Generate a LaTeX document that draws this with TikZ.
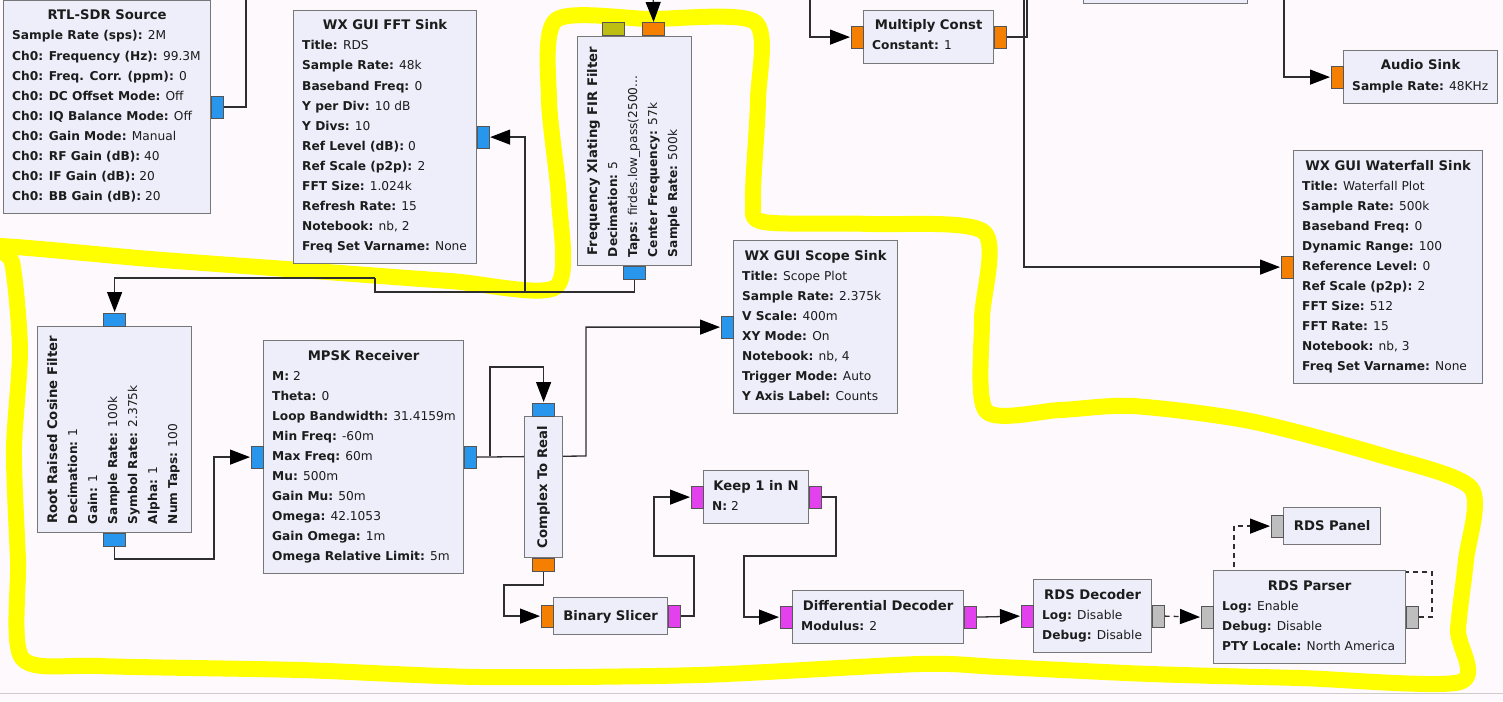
\documentclass[tikz,border=0pt]{standalone}
\usepackage{fontspec}
\setmainfont{DejaVu Sans}
\usetikzlibrary{arrows.meta,calc}

\definecolor{canvasbg}{HTML}{FDF9FD}
\definecolor{blockfill}{HTML}{EEEEFB}
\definecolor{blockedge}{HTML}{777777}
\definecolor{portedge}{HTML}{555555}
\definecolor{cplx}{HTML}{2896EC}
\definecolor{flt}{HTML}{F47F00}
\definecolor{byt}{HTML}{E341EE}
\definecolor{msg}{HTML}{BEBEBE}
\definecolor{olive}{HTML}{BDBD12}
\definecolor{wire}{HTML}{2E2E2E}
\definecolor{ink}{HTML}{1C1C1C}
\definecolor{marker}{HTML}{FFFF00}

\pgfdeclarelayer{highlight}
\pgfdeclarelayer{wires}
\pgfsetlayers{highlight,wires,main}

\newcommand\pk[1]{\textbf{#1}}
\newcommand\trunc{...}

\tikzset{
  blockbox/.style={draw=blockedge, fill=blockfill, line width=1.2pt, inner sep=0pt},
  titletext/.style={font=\fontsize{13.2}{20}\selectfont\bfseries, text=ink, inner sep=0pt},
  paramtext/.style={font=\fontsize{12.2}{20}\selectfont, text=ink, inner sep=0pt},
  hport/.style={draw=portedge, line width=1pt, inner sep=0pt, minimum width=12pt, minimum height=22pt},
  vport/.style={draw=portedge, line width=1pt, inner sep=0pt, minimum width=22pt, minimum height=13pt},
  conn/.style={draw=wire, line width=1.3pt},
  flow/.style={conn, -{Triangle[length=20pt,width=15pt,color=black]}, shorten >=0.5pt},
  msgflow/.style={flow, dash pattern=on 5pt off 4pt},
}

% horizontal block: name, left, top, width, number of params, title, params
\newcommand\hblk[7]{%
  \pgfmathsetmacro\bh{#5==0 ? 37 : 33+20*#5}%
  \node[blockbox, minimum width=#4, minimum height=\bh, anchor=north west] (#1) at (#2,#3) {};
  \ifnum#5=0
    \node[titletext, anchor=center] (#1-title) at ($(#1.center)+(0,0.5)$) {\vphantom{Xg}#6};
  \else
    \node[titletext, anchor=base] (#1-title) at ($(#1.north)+(0,20)$) {#6};
    \foreach \ln [count=\i] in {#7} {
      \node[paramtext, anchor=base west] (#1-p\i) at ($(#1.north west)+(9,20+20*\i)$) {\ln};
    }
  \fi
}

% vertical (rotated) block: name, left, top, width, length, number of params, title, params
\newcommand\vblk[8]{%
  \node[blockbox, minimum width=#4, minimum height=#5, anchor=north west] (#1) at (#2,#3) {};
  \ifnum#6=0
    \node[titletext, rotate=90, anchor=center] (#1-title) at (#1.center) {\vphantom{Xg}#7};
  \else
    \node[titletext, rotate=90, anchor=base] (#1-title) at ($(#1.west)+(20,0)$) {#7};
    \foreach \ln [count=\i] in {#8} {
      \node[paramtext, rotate=90, anchor=base west] (#1-p\i) at ($(#1.south west)+(20+20*\i,-9)$) {\ln};
    }
  \fi
}

\begin{document}
\begin{tikzpicture}[x=1pt,y=-1pt]
\useasboundingbox (0,0) rectangle (1503,701);
\clip (0,0) rectangle (1503,701);

\begin{pgfonlayer}{highlight}
\fill[canvasbg] (0,0) rectangle (1503,701);
% hand-drawn highlight around the RDS chain
\draw[marker, line width=16pt, line join=round]
  plot[smooth cycle, tension=0.45] coordinates {
    (556,20) (650,19) (755,22) (758,100) (753,200) (764,222) (870,224)
    (984,232) (982,320) (986,411) (1060,410) (1133,406) (1250,421)
    (1380,455) (1471,488) (1466,560) (1458,630) (1460,682) (1300,678)
    (1150,674) (1000,667) (920,664) (700,675) (480,677) (300,670)
    (100,666) (22,658) (18,560) (14,450) (20,350) (12,262) (-4,246)
    (150,259) (300,270) (450,281) (556,287) (559,200) (549,100)};
% scroll edge
\draw[draw=black!20, line width=1.5pt] (0,693.5) -- (1503,693.5);
\end{pgfonlayer}

% ---- blocks ----
\hblk{rtl}{3}{0}{207}{9}{RTL-SDR Source}{
  {\pk{Sample Rate (sps):} 2M},
  {\pk{Ch0: Frequency (Hz):} 99.3M},
  {\pk{Ch0: Freq. Corr. (ppm):} 0},
  {\pk{Ch0: DC Offset Mode:} Off},
  {\pk{Ch0: IQ Balance Mode:} Off},
  {\pk{Ch0: Gain Mode:} Manual},
  {\pk{Ch0: RF Gain (dB):} 40},
  {\pk{Ch0: IF Gain (dB):} 20},
  {\pk{Ch0: BB Gain (dB):} 20}}

\hblk{fft}{293}{10}{183}{11}{WX GUI FFT Sink}{
  {\pk{Title:} RDS},
  {\pk{Sample Rate:} 48k},
  {\pk{Baseband Freq:} 0},
  {\pk{Y per Div:} 10 dB},
  {\pk{Y Divs:} 10},
  {\pk{Ref Level (dB):} 0},
  {\pk{Ref Scale (p2p):} 2},
  {\pk{FFT Size:} 1.024k},
  {\pk{Refresh Rate:} 15},
  {\pk{Notebook:} nb, 2},
  {\pk{Freq Set Varname:} None}}

\vblk{xlat}{577}{36}{114}{229}{4}{Frequency Xlating FIR Filter}{
  {\pk{Decimation:} 5},
  {\pk{Taps:} firdes.low\_pass(2500\trunc},
  {\pk{Center Frequency:} 57k},
  {\pk{Sample Rate:} 500k}}

\vblk{rrc}{37}{326}{154}{206}{6}{Root Raised Cosine Filter}{
  {\pk{Decimation:} 1},
  {\pk{Gain:} 1},
  {\pk{Sample Rate:} 100k},
  {\pk{Symbol Rate:} 2.375k},
  {\pk{Alpha:} 1},
  {\pk{Num Taps:} 100}}

\hblk{mpsk}{263}{340}{200}{10}{MPSK Receiver}{
  {\pk{M:} 2},
  {\pk{Theta:} 0},
  {\pk{Loop Bandwidth:} 31.4159m},
  {\pk{Min Freq:} -60m},
  {\pk{Max Freq:} 60m},
  {\pk{Mu:} 500m},
  {\pk{Gain Mu:} 50m},
  {\pk{Omega:} 42.1053},
  {\pk{Gain Omega:} 1m},
  {\pk{Omega Relative Limit:} 5m}}

\vblk{c2r}{524}{416}{38}{141}{0}{Complex To Real}{}

\hblk{scope}{733}{240}{164}{7}{WX GUI Scope Sink}{
  {\pk{Title:} Scope Plot},
  {\pk{Sample Rate:} 2.375k},
  {\pk{V Scale:} 400m},
  {\pk{XY Mode:} On},
  {\pk{Notebook:} nb, 4},
  {\pk{Trigger Mode:} Auto},
  {\pk{Y Axis Label:} Counts}}

\hblk{slicer}{553}{597}{114}{0}{Binary Slicer}{}
\hblk{keep}{703}{470}{105}{1}{Keep 1 in N}{{\pk{N:} 2}}
\hblk{diff}{792}{590}{171}{1}{Differential Decoder}{{\pk{Modulus:} 2}}
\hblk{rdsdec}{1033}{579}{118}{2}{RDS Decoder}{
  {\pk{Log:} Disable},
  {\pk{Debug:} Disable}}
\hblk{parser}{1213}{570}{192}{3}{RDS Parser}{
  {\pk{Log:} Enable},
  {\pk{Debug:} Disable},
  {\pk{PTY Locale:} North America}}
\hblk{panel}{1283}{507}{97}{0}{RDS Panel}{}

\hblk{mult}{863}{10}{130}{1}{Multiply Const}{{\pk{Constant:} 1}}
\hblk{audio}{1343}{50}{154}{1}{Audio Sink}{{\pk{Sample Rate:} 48KHz}}
\hblk{wf}{1293}{150}{189}{10}{WX GUI Waterfall Sink}{
  {\pk{Title:} Waterfall Plot},
  {\pk{Sample Rate:} 500k},
  {\pk{Baseband Freq:} 0},
  {\pk{Dynamic Range:} 100},
  {\pk{Reference Level:} 0},
  {\pk{Ref Scale (p2p):} 2},
  {\pk{FFT Size:} 512},
  {\pk{FFT Rate:} 15},
  {\pk{Notebook:} nb, 3},
  {\pk{Freq Set Varname:} None}}

\node[blockbox, minimum width=164, minimum height=30, anchor=south west] (upper) at (1083,4) {};

% ---- ports ----
\node[hport, fill=cplx] (rtl-out) at ($(rtl.east)+(6,0)$) {};
\node[hport, fill=cplx] (fft-in) at ($(fft.east)+(6,0)$) {};
\node[vport, fill=olive] (xlat-in1) at ($(xlat.north)+(-21,-6.5)$) {};
\node[vport, fill=flt] (xlat-in2) at ($(xlat.north)+(19,-6.5)$) {};
\node[vport, fill=cplx] (xlat-out) at ($(xlat.south)+(0,6.5)$) {};
\node[vport, fill=cplx] (rrc-in) at ($(rrc.north)+(0,-6.5)$) {};
\node[vport, fill=cplx] (rrc-out) at ($(rrc.south)+(0,6.5)$) {};
\node[hport, fill=cplx] (mpsk-in) at ($(mpsk.west)+(-6,0)$) {};
\node[hport, fill=cplx] (mpsk-out) at ($(mpsk.east)+(6,0)$) {};
\node[vport, fill=cplx] (c2r-in) at ($(c2r.north)+(0,-6.5)$) {};
\node[vport, fill=flt] (c2r-out) at ($(c2r.south)+(0,6.5)$) {};
\node[hport, fill=cplx] (scope-in) at ($(scope.west)+(-6,0)$) {};
\node[hport, fill=flt] (slicer-in) at ($(slicer.west)+(-6,0)$) {};
\node[hport, fill=byt] (slicer-out) at ($(slicer.east)+(6,0)$) {};
\node[hport, fill=byt] (keep-in) at ($(keep.west)+(-6,0)$) {};
\node[hport, fill=byt] (keep-out) at ($(keep.east)+(6,0)$) {};
\node[hport, fill=byt] (diff-in) at ($(diff.west)+(-6,0)$) {};
\node[hport, fill=byt] (diff-out) at ($(diff.east)+(6,0)$) {};
\node[hport, fill=byt] (rdsdec-in) at ($(rdsdec.west)+(-6,0)$) {};
\node[hport, fill=msg] (rdsdec-out) at ($(rdsdec.east)+(6,0)$) {};
\node[hport, fill=msg] (parser-in) at ($(parser.west)+(-6,0)$) {};
\node[hport, fill=msg] (parser-out) at ($(parser.east)+(6,0)$) {};
\node[hport, fill=msg] (panel-in) at ($(panel.west)+(-6,0)$) {};
\node[hport, fill=flt] (mult-in) at ($(mult.west)+(-6,0)$) {};
\node[hport, fill=flt] (mult-out) at ($(mult.east)+(6,0)$) {};
\node[hport, fill=flt] (audio-in) at ($(audio.west)+(-6,0)$) {};
\node[hport, fill=flt] (wf-in) at ($(wf.west)+(-6,0)$) {};

% ---- bend points and off-canvas ends ----
\coordinate (rtl-up) at (246,-8);
\coordinate (xlat-src) at (653,-8);
\coordinate (xb1) at (375,292);
\coordinate (xb2) at (375,278);
\coordinate (xj) at (525,292);
\coordinate (rb) at (214,559);
\coordinate (ms) at (586,456);
\coordinate (mj) at (490,456);
\coordinate (mt) at (490,367);
\coordinate (cb) at (504,585);
\coordinate (s1) at (694,556);
\coordinate (s2) at (654,556);
\coordinate (k1) at (836,556);
\coordinate (k2) at (744,556);
\coordinate (p1) at (1432,572);
\coordinate (p2) at (1234,572);
\coordinate (m0) at (810,-8);
\coordinate (m2) at (1027,-8);
\coordinate (w0) at (1024,-8);
\coordinate (a0) at (1284,-8);

% ---- connections (drawn beneath the blocks) ----
\begin{pgfonlayer}{wires}
\draw[conn] (rtl-out.east) -| (rtl-up);
\draw[flow] (xlat-src) -- (xlat-in2.north);
\draw[conn] (xlat-out.south) |- (xb1) -- (xb2);
\draw[flow] (xb2) -| (rrc-in.north);
\draw[flow] (xj) |- (fft-in.east);
\draw[flow] (rrc-out.south) |- (rb) |- (mpsk-in.west);
\draw[flow] (mpsk-out.east) -- (ms) |- (scope-in.west);
\draw[flow] (mj) -- (mt) -| (c2r-in.north);
\draw[flow] (c2r-out.south) |- (cb) |- (slicer-in.west);
\draw[flow] (slicer-out.east) -| (s1) -- (s2) |- (keep-in.west);
\draw[flow] (keep-out.east) -| (k1) -- (k2) |- (diff-in.west);
\draw[flow] (diff-out.east) -- (rdsdec-in.west);
\draw[msgflow] (rdsdec-out.east) -- (parser-in.west);
\draw[msgflow] (parser-out.east) -| (p1) -- (p2) |- (panel-in.west);
\draw[flow] (m0) |- (mult-in.west);
\draw[conn] (mult-out.east) -| (m2);
\draw[flow] (w0) |- (wf-in.west);
\draw[flow] (a0) |- (audio-in.west);
\end{pgfonlayer}
\end{tikzpicture}
\end{document}
